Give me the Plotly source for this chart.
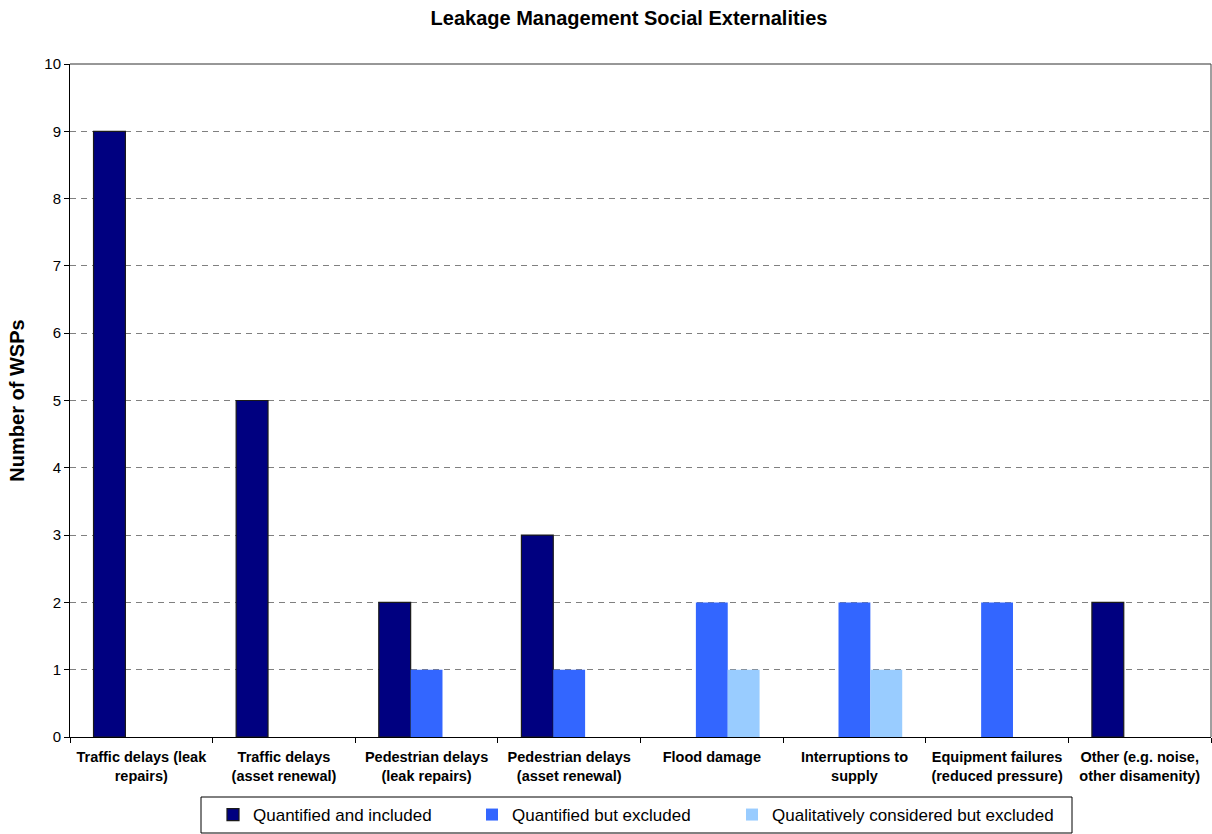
import plotly.graph_objects as go

categories = [
    "Traffic delays (leak<br>repairs)",
    "Traffic delays<br>(asset renewal)",
    "Pedestrian delays<br>(leak repairs)",
    "Pedestrian delays<br>(asset renewal)",
    "Flood damage",
    "Interruptions to<br>supply",
    "Equipment failures<br>(reduced pressure)",
    "Other (e.g. noise,<br>other disamenity)",
]
series_names = [
    "Quantified and included",
    "Quantified but excluded",
    "Qualitatively considered but excluded",
]
quantified_included = [9, 5, 2, 3, 0, 0, 0, 2]
quantified_excluded = [0, 0, 1, 1, 2, 2, 2, 0]
qualitative_excluded = [0, 0, 0, 0, 1, 1, 0, 0]
y_ticks = list(range(0, 11))

FONT = "Liberation Sans, Arial, sans-serif"
W, H = 1212, 834
L, R, T, B = 70, 1, 64, 97
plot_w = W - L - R
plot_h = H - T - B


def px_x(px):
    return (px - L) / plot_w


def px_y(py):
    return (H - B - py) / plot_h


fig = go.Figure()
fig.add_trace(go.Bar(
    x=categories, y=quantified_included, name=series_names[0], legend="legend",
    marker=dict(color="#000080",
                line=dict(color="#1a1a1a",
                          width=[1.2 if v else 0 for v in quantified_included])),
))
fig.add_trace(go.Bar(
    x=categories, y=quantified_excluded, name=series_names[1], legend="legend2",
    marker=dict(color="#3366FF", line=dict(width=0)),
))
fig.add_trace(go.Bar(
    x=categories, y=qualitative_excluded, name=series_names[2], legend="legend3",
    marker=dict(color="#99CCFF", line=dict(width=0)),
))

legend_style = dict(
    orientation="h", xanchor="left", y=px_y(797), yanchor="top",
    borderwidth=0, bgcolor="rgba(0,0,0,0)",
    font=dict(size=17, family=FONT, color="black"),
    itemwidth=30,
)

fig.update_layout(
    width=W, height=H,
    margin=dict(l=L, r=R, t=T, b=B),
    paper_bgcolor="white", plot_bgcolor="white",
    barmode="group", bargap=0.33, bargroupgap=0,
    font=dict(family=FONT, color="black"),
    title=dict(
        text="<b>Leakage Management Social Externalities</b>",
        x=629 / W, xref="container", y=0.978, yref="container", xanchor="center", yanchor="middle",
        font=dict(size=20, family=FONT, color="black"),
    ),
    showlegend=True,
    legend=dict(x=px_x(213), **legend_style),
    legend2=dict(x=px_x(472), **legend_style),
    legend3=dict(x=px_x(732), **legend_style),
)

# legend frame
fig.add_shape(type="rect", xref="paper", yref="paper",
              x0=px_x(201), x1=px_x(1072), y0=px_y(797), y1=px_y(833),
              line=dict(color="black", width=1), fillcolor="rgba(0,0,0,0)", layer="below")

fig.update_xaxes(
    type="category", tickson="boundaries", ticks="outside", ticklen=5, tickcolor="black",
    showline=True, linecolor="black", linewidth=1, mirror=False,
    tickfont=dict(size=14.5, family=FONT, color="black"),
    tickprefix="<b>", ticksuffix="</b>", ticklabelstandoff=7,
    showgrid=False,
)
fig.update_yaxes(
    range=[0, 10], tickvals=y_ticks, ticks="outside", ticklen=5, tickcolor="black",
    showline=True, linecolor="black", linewidth=1,
    tickfont=dict(size=15, family=FONT, color="black"),
    showgrid=True, gridcolor="#808080", gridwidth=1, griddash="6px,5px",
    zeroline=False,
    title=dict(text="<b>Number of WSPs</b>", font=dict(size=20, family=FONT, color="black"), standoff=14),
)

# top and right edges of the plotting area
fig.add_shape(type="line", xref="paper", yref="paper", x0=0, x1=1, y0=1, y1=1,
              line=dict(color="#303030", width=1))
fig.add_shape(type="line", xref="paper", yref="paper", x0=1, x1=1, y0=0, y1=1,
              line=dict(color="#404040", width=1))

fig.write_html("out.html")
